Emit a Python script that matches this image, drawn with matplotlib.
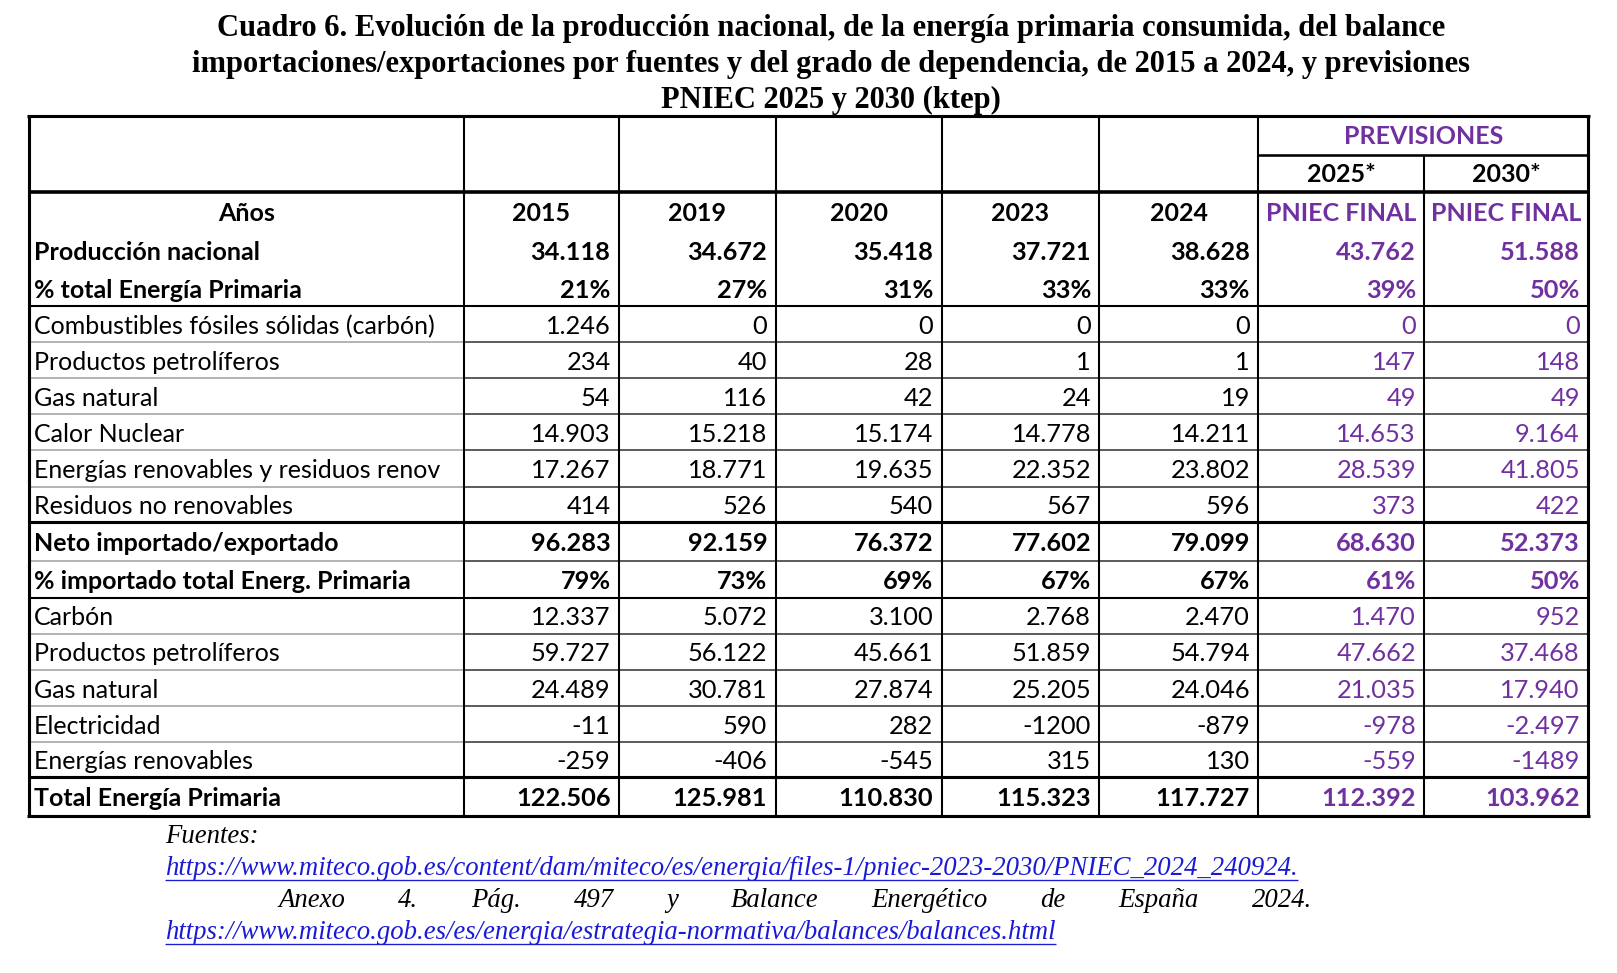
import matplotlib
matplotlib.use("Agg")
import matplotlib.pyplot as plt

W, H = 1617, 973
VW, VH = 1568, 944  # layout units
PURPLE = "#7030a0"
LINK = "#1a1ad6"

title_lines = [
    "Cuadro 6. Evolución de la producción nacional, de la energía primaria consumida, del balance",
    "importaciones/exportaciones por fuentes y del grado de dependencia, de 2015 a 2024, y previsiones",
    "PNIEC 2025 y 2030 (ktep)",
]

years = ["2015", "2019", "2020", "2023", "2024"]
forecast_years = ["2025*", "2030*"]
forecast_label = "PNIEC FINAL"
group_label = "PREVISIONES"
first_col_header = "Años"

row_labels = [
    "Producción nacional",
    "% total Energía Primaria",
    "Combustibles fósiles sólidas (carbón)",
    "Productos petrolíferos",
    "Gas natural",
    "Calor Nuclear",
    "Energías renovables y residuos renov",
    "Residuos no renovables",
    "Neto importado/exportado",
    "% importado total Energ. Primaria",
    "Carbón",
    "Productos petrolíferos",
    "Gas natural",
    "Electricidad",
    "Energías renovables",
    "Total Energía Primaria",
]
bold_rows = {0, 1, 8, 9, 15}

# 2015, 2019, 2020, 2023, 2024, 2025*, 2030*
values = [
    ["34.118", "34.672", "35.418", "37.721", "38.628", "43.762", "51.588"],
    ["21%", "27%", "31%", "33%", "33%", "39%", "50%"],
    ["1.246", "0", "0", "0", "0", "0", "0"],
    ["234", "40", "28", "1", "1", "147", "148"],
    ["54", "116", "42", "24", "19", "49", "49"],
    ["14.903", "15.218", "15.174", "14.778", "14.211", "14.653", "9.164"],
    ["17.267", "18.771", "19.635", "22.352", "23.802", "28.539", "41.805"],
    ["414", "526", "540", "567", "596", "373", "422"],
    ["96.283", "92.159", "76.372", "77.602", "79.099", "68.630", "52.373"],
    ["79%", "73%", "69%", "67%", "67%", "61%", "50%"],
    ["12.337", "5.072", "3.100", "2.768", "2.470", "1.470", "952"],
    ["59.727", "56.122", "45.661", "51.859", "54.794", "47.662", "37.468"],
    ["24.489", "30.781", "27.874", "25.205", "24.046", "21.035", "17.940"],
    ["-11", "590", "282", "-1200", "-879", "-978", "-2.497"],
    ["-259", "-406", "-545", "315", "130", "-559", "-1489"],
    ["122.506", "125.981", "110.830", "115.323", "117.727", "112.392", "103.962"],
]

sources_head = "Fuentes:"
url1 = "https://www.miteco.gob.es/content/dam/miteco/es/energia/files-1/pniec-2023-2030/PNIEC_2024_240924."
annex_words = ["Anexo", "4.", "Pág.", "497", "y", "Balance", "Energético", "de", "España", "2024."]
url2 = "https://www.miteco.gob.es/es/energia/estrategia-normativa/balances/balances.html"

# layout (layout units)
col_x = [28, 450, 600, 752, 913, 1066, 1220, 1381, 1540]
row_edges = [224, 262, 297, 332, 367, 402, 437, 472, 506, 544, 580, 615, 650, 685, 720, 754, 792]
top, prev_line, head_line = 113, 150, 186

fig = plt.figure(figsize=(W / 100, H / 100), dpi=100)
ax = fig.add_axes([0, 0, 1, 1])
ax.set_xlim(0, VW)
ax.set_ylim(VH, 0)
ax.axis("off")

SANS = ["Lato", "DejaVu Sans"]
SERIF = ["Liberation Serif", "DejaVu Serif"]
px = 0.72 * W / VW  # one layout unit in points

# title
for i, t in enumerate(title_lines):
    ax.text(VW / 2 + 22, 28 + i * 34.5, t, ha="center", va="center", fontsize=22,
            fontweight="bold", family=SERIF)

def hline(y, x0, x1, lw, c="black"):
    ax.plot([x0, x1], [y, y], color=c, lw=lw * px, solid_capstyle="butt")

def vline(x, y0, y1, lw, c="black"):
    ax.plot([x, x], [y0, y1], color=c, lw=lw * px, solid_capstyle="butt")

left, right, bottom = col_x[0], col_x[-1], row_edges[-1]
thick_rows = {224: 2, 297: 2, 506: 3, 580: 2, 754: 3}
for y in row_edges[1:-1]:
    if y == 262:
        continue
    if y in thick_rows:
        hline(y, left, right, thick_rows[y])
    else:
        hline(y, left, col_x[1], 1.5, "#a0a0a0")
        hline(y, col_x[1], right, 1.5, "#303030")
hline(head_line, left, right, 3.5)
hline(prev_line, col_x[6], right, 2.5)
for x in col_x[1:-2]:
    vline(x, top, bottom, 2)
vline(col_x[7], prev_line, bottom, 2)
hline(top, left - 1.5, right + 1.5, 3)
hline(bottom, left - 1.5, right + 1.5, 3)
vline(left, top, bottom, 3)
vline(right, top, bottom, 3)

FS = 18
FN_NUM = 18.3
# header
ax.text((col_x[6] + col_x[8]) / 2, (top + prev_line) / 2 + 1, group_label, ha="center", va="center",
        fontsize=FS, fontweight="bold", color=PURPLE, family=SANS)
for j, fy in enumerate(forecast_years):
    ax.text((col_x[6 + j] + col_x[7 + j]) / 2, (prev_line + head_line) / 2 + 1, fy, ha="center",
            va="center", fontsize=FS, fontweight="bold", family=SANS)
yh = (head_line + row_edges[0]) / 2 + 2
ax.text((col_x[0] + col_x[1]) / 2, yh, first_col_header, ha="center", va="center",
        fontsize=FS, fontweight="bold", family=SANS)
for j, yr in enumerate(years):
    ax.text((col_x[1 + j] + col_x[2 + j]) / 2, yh, yr, ha="center", va="center",
            fontsize=FS, fontweight="bold", family=SANS)
for j in range(2):
    ax.text((col_x[6 + j] + col_x[7 + j]) / 2, yh, forecast_label, ha="center", va="center",
            fontsize=FS, fontweight="bold", color=PURPLE, family=SANS)

# body
for i, lab in enumerate(row_labels):
    yc = (row_edges[i] + row_edges[i + 1]) / 2 + 2
    fw = "bold" if i in bold_rows else "normal"
    ax.text(col_x[0] + 5, yc, lab, ha="left", va="center", fontsize=FS, fontweight=fw, family=SANS)
    for j, v in enumerate(values[i]):
        col = PURPLE if j >= 5 else "black"
        ax.text(col_x[j + 2] - 8, yc, v, ha="right", va="center", fontsize=FN_NUM,
                fontweight=fw, color=col, family=SANS)

# sources
FN = 19.3
ax.text(160, 812, sources_head, ha="left", va="center", fontsize=FN, style="italic", family=SERIF)
fig.canvas.draw()
rend = fig.canvas.get_renderer()
inv = ax.transData.inverted()

def link(x, y, s):
    t = ax.text(x, y, s, ha="left", va="center", fontsize=FN, style="italic", color=LINK, family=SERIF)
    bb = t.get_window_extent(renderer=rend)
    x1 = inv.transform((bb.x1, bb.y0))[0]
    hline(y + 11, x, x1, 1.3, LINK)

link(160, 843, url1)
link(160, 905, url2)

# justified annex line
ws = []
for w in annex_words:
    t = ax.text(0, 874, w, ha="left", va="center", fontsize=FN, style="italic", family=SERIF)
    bb = t.get_window_extent(renderer=rend)
    ws.append((t, inv.transform((bb.x1, 0))[0] - inv.transform((bb.x0, 0))[0]))
x0, x1 = 270, 1272
gap = (x1 - x0 - sum(w for _, w in ws)) / (len(ws) - 1)
x = x0
for t, w in ws:
    t.set_x(x)
    x += w + gap

fig.savefig("out.png", dpi=100)
